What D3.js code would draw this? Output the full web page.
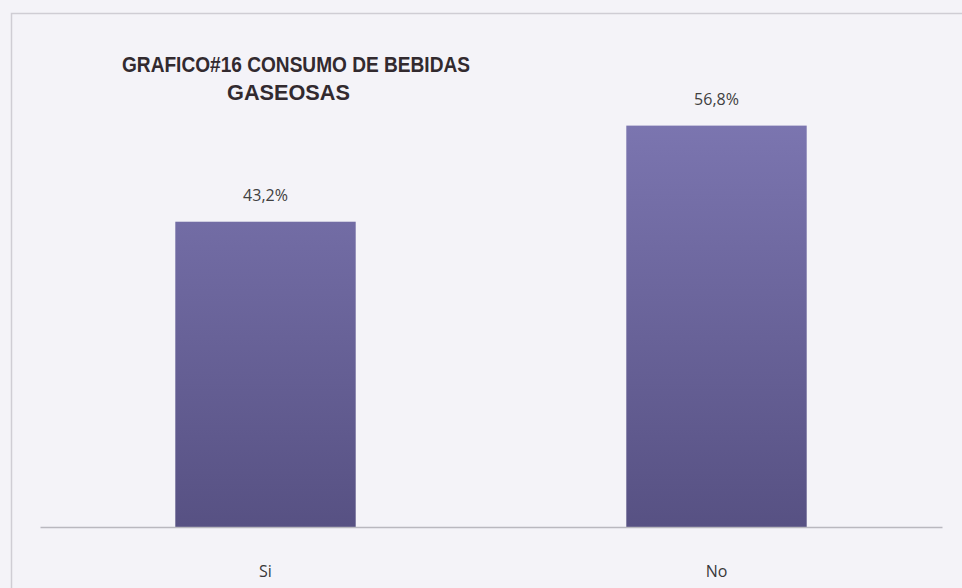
<!DOCTYPE html>
<html>
<head>
<meta charset="utf-8">
<script src="https://cdn.jsdelivr.net/npm/d3@7/dist/d3.min.js"></script>
<style>
  html, body { margin: 0; padding: 0; background: #f4f3f8; }
  svg { display: block; }
</style>
</head>
<body>
<svg id="chart" width="962" height="588"></svg>
<script>
// Consumo de bebidas gaseosas (porcentaje)
const categories = ["Si", "No"];
const values = [43.2, 56.8];
const valueLabels = ["43,2%", "56,8%"];
const titleLines = ["GRAFICO#16 CONSUMO DE BEBIDAS", "GASEOSAS"];

const W = 962, H = 588;
const svg = d3.select("#chart");

// background and chart frame
svg.append("rect").attr("width", W).attr("height", H).attr("fill", "#f4f3f8");
svg.append("path")
  .attr("d", `M11.5,${H} V13.5 H${W}`)
  .attr("fill", "none").attr("stroke", "#cfcdd4").attr("stroke-width", 1.5);

const plot = { left: 40, right: 942, top: 103, bottom: 527 };

const x = d3.scaleBand()
  .domain(categories)
  .range([plot.left, plot.right])
  .paddingInner(0.6)
  .paddingOuter(0.3);

const y = d3.scaleLinear()
  .domain([0, 60])
  .range([plot.bottom, plot.top]);

// vertical shading of the bars
const defs = svg.append("defs");
const grad = defs.append("linearGradient")
  .attr("id", "barGrad")
  .attr("gradientUnits", "userSpaceOnUse")
  .attr("x1", 0).attr("x2", 0)
  .attr("y1", y(60)).attr("y2", y(0));
grad.append("stop").attr("offset", "0%").attr("stop-color", "#7d77b2");
grad.append("stop").attr("offset", "100%").attr("stop-color", "#575183");

const data = categories.map((c, i) => ({ cat: c, val: values[i], label: valueLabels[i] }));

svg.append("g").selectAll("rect")
  .data(data)
  .join("rect")
  .attr("x", d => x(d.cat))
  .attr("y", d => y(d.val))
  .attr("width", x.bandwidth())
  .attr("height", d => y(0) - y(d.val))
  .attr("fill", "url(#barGrad)");

// category axis
const xAxis = svg.append("g")
  .attr("transform", `translate(0,${plot.bottom})`)
  .call(d3.axisBottom(x).tickSize(0).tickPadding(0));
xAxis.select(".domain").attr("stroke", "#b9b8bf").attr("stroke-width", 1.5);
xAxis.selectAll(".tick text")
  .attr("dy", null)
  .attr("y", 50)
  .attr("font-family", "'Open Sans', sans-serif")
  .attr("font-size", 16)
  .attr("fill", "#383838");

// value labels
svg.append("g").selectAll("text")
  .data(data)
  .join("text")
  .attr("x", d => x(d.cat) + x.bandwidth() / 2)
  .attr("y", d => y(d.val) - 21)
  .attr("text-anchor", "middle")
  .attr("font-family", "'Open Sans', sans-serif")
  .attr("font-size", 16)
  .attr("fill", "#404040")
  .text(d => d.label);

// title
const title = svg.append("g")
  .attr("font-family", "'Liberation Sans', Arial, sans-serif")
  .attr("font-weight", "bold")
  .attr("font-size", 22)
  .attr("fill", "#322a2f");
title.append("text")
  .attr("x", 122).attr("y", 72)
  .attr("textLength", 348).attr("lengthAdjust", "spacingAndGlyphs")
  .text(titleLines[0]);
title.append("text")
  .attr("x", 227).attr("y", 100)
  .attr("textLength", 123).attr("lengthAdjust", "spacingAndGlyphs")
  .text(titleLines[1]);
</script>
</body>
</html>
